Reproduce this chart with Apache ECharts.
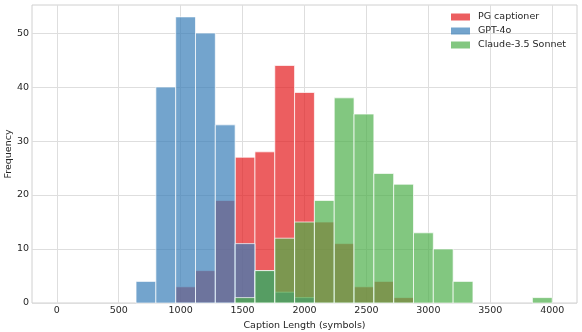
<!DOCTYPE html>
<html>
<head>
<meta charset="utf-8">
<script src="https://cdn.jsdelivr.net/npm/echarts@6/dist/echarts.min.js"></script>
<style>
  html, body { margin: 0; padding: 0; background: #fff; }
  #chart { width: 582px; height: 332px; }
</style>
</head>
<body>
<div id="chart"></div>
<script>
// histogram bin edges (symbols), 25 bins shared by all series
const binEdges = [0, 160, 320, 480, 640, 800, 960, 1120, 1280, 1440, 1600, 1760, 1920,
  2080, 2240, 2400, 2560, 2720, 2880, 3040, 3200, 3360, 3520, 3680, 3840, 4000];

// counts per bin
const pgCounts     = [0, 0, 0, 0, 0, 0, 3, 6, 19, 27, 28, 44, 39, 15, 11, 3, 4, 1, 0, 0, 0, 0, 0, 0, 0];
const gptCounts    = [0, 0, 0, 0, 4, 40, 53, 50, 33, 11, 6, 2, 1, 0, 0, 0, 0, 0, 0, 0, 0, 0, 0, 0, 0];
const claudeCounts = [0, 0, 0, 0, 0, 0, 0, 0, 0, 1, 6, 12, 15, 19, 38, 35, 24, 22, 13, 10, 4, 0, 0, 0, 1];

const seriesNames = ['PG captioner', 'GPT-4o', 'Claude-3.5 Sonnet'];
const xTicks = [0, 500, 1000, 1500, 2000, 2500, 3000, 3500, 4000];
const yTicks = [0, 10, 20, 30, 40, 50];

const colors = ['rgba(228,26,28,0.7)', 'rgba(55,126,184,0.7)', 'rgba(77,175,74,0.7)'];
const FONT = 'DejaVu Sans';

function toBins(counts) {
  const out = [];
  counts.forEach((c, i) => {
    if (c > 0) out.push([binEdges[i], binEdges[i + 1], c]);
  });
  return out;
}

function makeRender(color) {
  return function(params, api) {
    const p0 = api.coord([api.value(0), api.value(2)]);
    const p1 = api.coord([api.value(1), 0]);
    return {
      type: 'rect',
      shape: { x: p0[0], y: p0[1], width: p1[0] - p0[0], height: p1[1] - p0[1] },
      style: { fill: color, stroke: 'rgba(255,255,255,0.7)', lineWidth: 1 }
    };
  };
}

const chart = echarts.init(document.getElementById('chart'), null, { renderer: 'canvas' });

const allCounts = [pgCounts, gptCounts, claudeCounts];

chart.setOption({
  animation: false,
  backgroundColor: '#fff',
  textStyle: { fontFamily: FONT },
  grid: {
    left: 32, right: 5, top: 5, bottom: 29,
    outerBoundsMode: 'none',
    containLabel: false,
    show: true, borderColor: '#d0d0d0', borderWidth: 1, backgroundColor: 'transparent'
  },
  legend: {
    data: seriesNames,
    orient: 'vertical',
    left: 451,
    top: 11,
    padding: 0,
    itemWidth: 19,
    itemHeight: 7,
    itemGap: 2,
    icon: 'rect',
    itemStyle: { borderWidth: 0 },
    textStyle: { fontFamily: FONT, fontSize: 9.5, color: '#262626', lineHeight: 12, padding: [0, 0, 0, 3] }
  },
  xAxis: {
    type: 'value',
    min: -200,
    max: 4200,
    name: 'Caption Length (symbols)',
    nameLocation: 'middle',
    nameGap: 14,
    nameTextStyle: { fontFamily: FONT, fontSize: 9.5, color: '#262626' },
    axisLine: { show: false },
    axisTick: { show: false, customValues: xTicks },
    axisLabel: {
      customValues: xTicks, fontFamily: FONT, fontSize: 9.5, color: '#262626', margin: 3,
      formatter: v => String(v)
    },
    splitLine: { show: true, lineStyle: { color: '#dedede', width: 1 } }
  },
  yAxis: {
    type: 'value',
    min: 0,
    max: 55.2,
    name: 'Frequency',
    nameLocation: 'middle',
    nameGap: 18,
    nameMoveOverlap: false,
    nameTextStyle: { fontFamily: FONT, fontSize: 9.5, color: '#262626' },
    axisLine: { show: false },
    axisTick: { show: false, customValues: yTicks },
    axisLabel: {
      customValues: yTicks, fontFamily: FONT, fontSize: 9.5, color: '#262626', margin: 3,
      formatter: v => String(v)
    },
    splitLine: { show: true, lineStyle: { color: '#dedede', width: 1 } }
  },
  series: seriesNames.map((name, idx) => ({
    name: name,
    type: 'custom',
    renderItem: makeRender(colors[idx]),
    itemStyle: { color: colors[idx] },
    encode: { x: [0, 1], y: 2 },
    data: toBins(allCounts[idx])
  }))
});
</script>
</body>
</html>
